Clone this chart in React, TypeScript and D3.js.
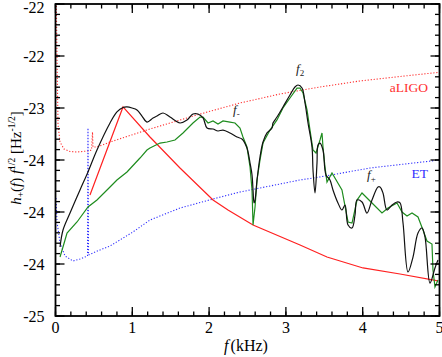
import React from "react";
import * as d3 from "d3";

// [f (kHz), log10 value]
const blackSpec: [number, number][] = [
  [0.059, -24.337], [0.098, -24.173], [0.189, -24.01], [0.319, -23.788], [0.423, -23.615],
  [0.54, -23.404], [0.71, -23.144], [0.8, -23.038], [0.879, -22.995], [0.931, -22.99],
  [0.996, -23.0], [1.061, -23.019], [1.126, -23.077], [1.191, -23.135], [1.27, -23.096],
  [1.322, -23.077], [1.4, -23.048], [1.491, -23.087], [1.621, -23.144], [1.712, -23.115],
  [1.79, -23.058], [1.855, -23.058], [1.921, -23.096], [1.973, -23.192], [2.051, -23.202],
  [2.116, -23.221], [2.181, -23.212], [2.272, -23.24], [2.363, -23.279], [2.428, -23.298],
  [2.493, -23.385], [2.533, -23.529], [2.559, -23.644], [2.572, -23.788], [2.585, -23.913],
  [2.598, -23.885], [2.624, -23.692], [2.663, -23.471], [2.702, -23.327], [2.754, -23.24],
  [2.819, -23.192], [2.832, -23.144], [2.884, -23.087], [2.962, -22.99], [3.053, -22.875],
  [3.118, -22.798], [3.158, -22.779], [3.21, -22.808], [3.249, -22.952], [3.288, -23.144],
  [3.34, -23.375], [3.353, -23.596], [3.379, -23.817], [3.405, -23.529], [3.418, -23.356],
  [3.444, -23.337], [3.483, -23.404], [3.522, -23.644], [3.574, -23.692], [3.613, -23.788],
  [3.678, -23.913], [3.73, -23.981], [3.77, -23.933], [3.809, -24.125], [3.861, -24.154],
  [3.9, -24.029], [3.926, -23.885], [3.991, -23.904], [4.056, -24.01], [4.121, -23.885],
  [4.199, -23.76], [4.225, -23.76], [4.264, -23.817], [4.316, -23.981], [4.382, -23.933],
  [4.447, -23.904], [4.486, -23.913], [4.525, -24.106], [4.59, -24.577], [4.655, -24.433],
  [4.72, -24.202], [4.772, -24.154], [4.811, -24.24], [4.876, -24.683], [4.941, -24.538],
  [4.98, -24.462],
];

const greenSpec: [number, number][] = [
  [0.059, -24.433], [0.124, -24.269], [0.15, -24.202], [0.28, -24.096], [0.423, -23.952],
  [0.54, -23.885], [0.71, -23.76], [0.8, -23.692], [0.931, -23.615], [1.1, -23.481],
  [1.191, -23.404], [1.23, -23.385], [1.361, -23.337], [1.452, -23.327], [1.556, -23.308],
  [1.66, -23.24], [1.79, -23.144], [1.882, -23.087], [1.921, -23.087], [1.986, -23.144],
  [2.051, -23.125], [2.116, -23.154], [2.181, -23.125], [2.272, -23.135], [2.337, -23.144],
  [2.402, -23.192], [2.441, -23.279], [2.493, -23.375], [2.533, -23.567], [2.559, -23.788],
  [2.572, -24.125], [2.598, -23.952], [2.624, -23.692], [2.663, -23.5], [2.702, -23.337],
  [2.793, -23.212], [2.884, -23.115], [2.962, -23.0], [3.053, -22.904], [3.145, -22.808],
  [3.184, -22.808], [3.223, -22.856], [3.275, -23.019], [3.314, -23.212], [3.353, -23.404],
  [3.392, -23.433], [3.444, -23.308], [3.47, -23.24], [3.483, -23.375], [3.509, -23.567],
  [3.535, -23.712], [3.6, -23.625], [3.73, -23.788], [3.809, -24.096], [3.861, -24.106],
  [3.926, -23.885], [3.991, -23.817], [4.095, -23.894], [4.251, -24.01], [4.329, -23.962],
  [4.447, -23.913], [4.512, -24.0], [4.577, -24.038], [4.642, -24.01], [4.72, -24.048],
  [4.785, -24.173], [4.837, -24.279], [4.902, -24.308], [4.915, -24.558], [4.941, -24.721],
  [4.98, -24.654],
];

const redEnvelope: [number, number][] = [
  [0.449, -23.837], [0.879, -22.99], [1.23, -23.279], [1.621, -23.577], [2.051, -23.885],
  [2.246, -23.981], [2.572, -24.125], [3.184, -24.317], [3.535, -24.433], [4.004, -24.538],
  [4.486, -24.596], [4.98, -24.663],
];

const aLIGO: [number, number][] = [
  [0.01, -21.96], [0.02, -22.538], [0.033, -23.163], [0.059, -23.327], [0.11, -23.394],
  [0.189, -23.418], [0.28, -23.423], [0.423, -23.413], [0.469, -23.404], [0.482, -23.231],
  [0.488, -23.375], [0.527, -23.375], [0.579, -23.365], [0.71, -23.327], [1.23, -23.202],
  [1.882, -23.058], [2.402, -22.952], [2.923, -22.865], [3.444, -22.798], [3.965, -22.74],
  [4.486, -22.697], [5.032, -22.654],
];

const ET: [number, number][] = [
  [0.0065, -23.865], [0.02, -24.096], [0.059, -24.298], [0.124, -24.423], [0.228, -24.471],
  [0.319, -24.452], [0.417, -24.423], [0.423, -23.192], [0.43, -24.413], [0.579, -24.365],
  [0.71, -24.327], [1.009, -24.192], [1.23, -24.077], [1.621, -23.962], [2.051, -23.875],
  [2.402, -23.808], [3.184, -23.692], [3.444, -23.663], [4.095, -23.577], [5.006, -23.5],
];

const xTicks = [0, 1, 2, 3, 4, 5];
const yTicks = [-22, -22.5, -23, -23.5, -24, -24.5, -25];
const yTickLabels = ["-22", "-22", "-23", "-24", "-24", "-24", "-25"];

const font = "'Liberation Serif', 'Times New Roman', serif";

export default function App() {
  const W = 442;
  const H = 357;
  const left = 55.5, right = 439.5, top = 4, bottom = 316;

  const x = d3.scaleLinear().domain([0, 5]).range([left, right]);
  const y = d3.scaleLinear().domain([-25, -22]).range([bottom, top]);

  const line = d3.line<[number, number]>()
    .x(d => x(d[0]))
    .y(d => y(d[1]));
  const smooth = d3.line<[number, number]>()
    .x(d => x(d[0]))
    .y(d => y(d[1]))
    .curve(d3.curveCatmullRom.alpha(0.5));

  const xMinor = d3.range(0, 5.0001, 0.2);
  const yMinor = d3.range(-25, -21.9999, 0.1);

  return (
    <svg width={W} height={H} style={{ position: "absolute", left: 0, top: 0, background: "#fff" }}
      fontFamily={font}>
      <defs>
        <clipPath id="plot">
          <rect x={left} y={top} width={right - left} height={bottom - top} />
        </clipPath>
      </defs>

      <g clipPath="url(#plot)" fill="none">
        <path d={line(aLIGO) ?? ""} stroke="#ff3030" strokeWidth={1.1} strokeDasharray="1.2,1.8" />
        <path d={line(ET) ?? ""} stroke="#3030ff" strokeWidth={1.1} strokeDasharray="1.2,1.8" />
        <path d={line(redEnvelope) ?? ""} stroke="#ff2020" strokeWidth={1.2} />
        <path d={line(greenSpec) ?? ""} stroke="#1e8c1e" strokeWidth={1.2} />
        <path d={smooth(blackSpec) ?? ""} stroke="#111" strokeWidth={1.2} />
      </g>

      {/* frame */}
      <rect x={left} y={top} width={right - left} height={bottom - top} fill="none" stroke="#000" strokeWidth={1.8} />

      {/* ticks */}
      <g stroke="#000" strokeWidth={1.3}>
        {xMinor.map((t, i) => (
          <g key={"xm" + i}>
            <line x1={x(t)} x2={x(t)} y1={bottom} y2={bottom - 4.5} />
            <line x1={x(t)} x2={x(t)} y1={top} y2={top + 4.5} />
          </g>
        ))}
        {xTicks.map(t => (
          <g key={"x" + t}>
            <line x1={x(t)} x2={x(t)} y1={bottom} y2={bottom - 9} />
            <line x1={x(t)} x2={x(t)} y1={top} y2={top + 9} />
          </g>
        ))}
        {yMinor.map((t, i) => (
          <g key={"ym" + i}>
            <line x1={left} x2={left + 4.5} y1={y(t)} y2={y(t)} />
            <line x1={right} x2={right - 4.5} y1={y(t)} y2={y(t)} />
          </g>
        ))}
        {yTicks.map(t => (
          <g key={"y" + t}>
            <line x1={left} x2={left + 9} y1={y(t)} y2={y(t)} />
            <line x1={right} x2={right - 9} y1={y(t)} y2={y(t)} />
          </g>
        ))}
      </g>

      {/* tick labels */}
      <g fontSize={16} fill="#000">
        {xTicks.map(t => (
          <text key={"xl" + t} x={x(t)} y={bottom + 17} textAnchor="middle">{t}</text>
        ))}
        {yTicks.map((t, i) => (
          <text key={"yl" + t} x={left - 11} y={Math.max(y(t), 7) + 5.5} textAnchor="end">{yTickLabels[i]}</text>
        ))}
      </g>

      {/* axis titles */}
      <text x={246} y={351} textAnchor="middle" fontSize={16}>
        <tspan fontStyle="italic">f</tspan>
        <tspan dx={2}>(kHz)</tspan>
      </text>
      <text transform="translate(21,158) rotate(-90)" textAnchor="middle" fontSize={15}>
        <tspan fontStyle="italic">h</tspan>
        <tspan fontSize={9.5} dy={3}>+</tspan>
        <tspan dy={-3}>(</tspan>
        <tspan fontStyle="italic">f</tspan>
        <tspan>) </tspan>
        <tspan fontStyle="italic">f</tspan>
        <tspan fontSize={9.5} dy={-6}>1/2</tspan>
        <tspan dy={6}> [Hz</tspan>
        <tspan fontSize={9.5} dy={-6}>-1/2</tspan>
        <tspan dy={6}>]</tspan>
      </text>

      {/* annotations */}
      <g fontSize={13} fill="#222">
        <text x={296} y={73}>
          <tspan fontStyle="italic">f</tspan>
          <tspan fontSize={9} dy={3}>2</tspan>
        </text>
        <text x={233} y={114}>
          <tspan fontStyle="italic">f</tspan>
          <tspan fontSize={9} dy={3}>-</tspan>
        </text>
        <text x={367} y={179}>
          <tspan fontStyle="italic">f</tspan>
          <tspan fontSize={9} dy={3}>+</tspan>
        </text>
      </g>
      <text x={428} y={92} textAnchor="end" fontSize={13.5} fill="#ff3030">aLIGO</text>
      <text x={428} y={178} textAnchor="end" fontSize={13.5} fill="#3030ff">ET</text>
    </svg>
  );
}
